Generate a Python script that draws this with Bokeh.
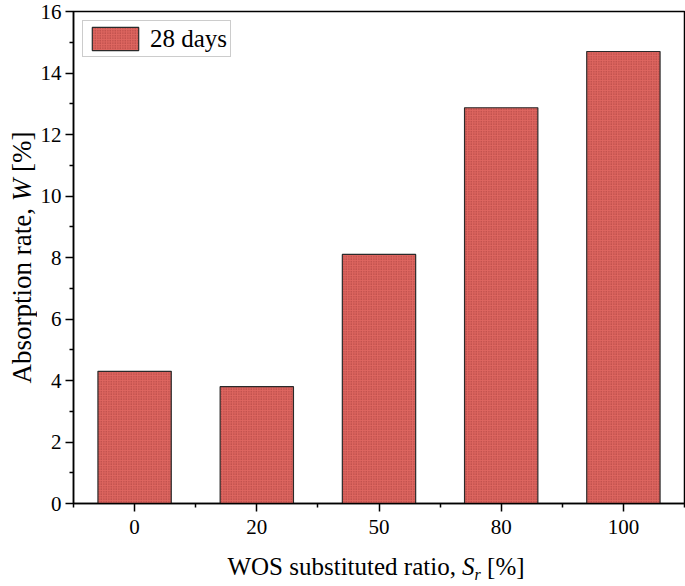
import numpy as np
from bokeh.plotting import figure
from bokeh.layouts import row, column
from bokeh.models import Range1d, FixedTicker, Label, ColumnDataSource
from bokeh.embed import file_html
from bokeh.resources import INLINE

# ---- data ----
categories = ["0", "20", "50", "80", "100"]
absorption_28d = [4.3, 3.8, 8.1, 12.87, 14.7]
y_ticks = [0, 2, 4, 6, 8, 10, 12, 14, 16]
series_name = "28 days"

FONT = "Liberation Serif"

# ---- layout sizes (px) ----
LEFT_W = 37          # strip holding the y-axis title
AX_LEFT = 33         # room for y tick labels
FRAME_W = 611
FRAME_H = 492
TOP = 11
RIGHT = 2
AX_BOTTOM = 47
BOT_H = 36           # strip holding the x-axis title
MAIN_W = AX_LEFT + FRAME_W + RIGHT
TOTAL_W = LEFT_W + MAIN_W

x_pos = np.arange(len(categories)) + 0.5
src = ColumnDataSource(dict(x=x_pos, top=absorption_28d))

p = figure(frame_width=FRAME_W, frame_height=FRAME_H,
           min_border_left=AX_LEFT, min_border_right=RIGHT, min_border_top=TOP,
           min_border_bottom=AX_BOTTOM,
           x_range=Range1d(0, len(categories)), y_range=Range1d(y_ticks[0], y_ticks[-1]),
           output_backend="svg", toolbar_location=None)

p.vbar(x="x", top="top", bottom=0, width=0.6, source=src,
       fill_color="#DE6660", line_color="#2a2a2a", line_width=1.2,
       hatch_pattern="dot", hatch_color="#8a2a2a", hatch_alpha=0.7, hatch_scale=2.5,
       hatch_weight=1, legend_label=series_name)

p.xgrid.visible = False
p.ygrid.visible = False
p.outline_line_color = "black"
p.outline_line_width = 1.5
p.background_fill_color = "white"
p.border_fill_color = "white"

for ax in (p.xaxis[0], p.yaxis[0]):
    ax.axis_line_width = 1.5
    ax.axis_line_color = "black"
    ax.major_tick_line_width = 1.5
    ax.minor_tick_line_width = 1.5
    ax.major_tick_in = 0
    ax.minor_tick_in = 0
    ax.major_tick_out = 8
    ax.minor_tick_out = 4
    ax.major_label_text_font = FONT
    ax.major_label_text_font_size = "21px"
    ax.major_label_text_color = "black"

p.xaxis.ticker = FixedTicker(ticks=list(x_pos), minor_ticks=list(range(0, len(categories) + 1)))
p.xaxis.major_label_overrides = {float(x): c for x, c in zip(x_pos, categories)}
p.xaxis.major_label_standoff = 8
p.yaxis.ticker = FixedTicker(ticks=y_ticks, minor_ticks=[t + 1 for t in y_ticks[:-1]])
p.yaxis.major_label_standoff = 4

lg = p.legend[0]
lg.location = "top_left"
lg.margin = 9
lg.padding = 3
lg.spacing = 0
lg.glyph_width = 58
lg.glyph_height = 29
lg.label_height = 29
lg.label_standoff = 6
lg.label_text_font = FONT
lg.label_text_font_size = "25px"
lg.label_text_color = "black"
lg.border_line_color = "#999999"
lg.border_line_width = 1


def strip(**kw):
    f = figure(output_backend="svg", toolbar_location=None,
               x_axis_location=None, y_axis_location=None, **kw)
    f.xgrid.visible = False
    f.ygrid.visible = False
    f.outline_line_color = None
    f.border_fill_color = "white"
    f.background_fill_color = "white"
    return f


# ---- y axis title: "Absorption rate, W [%]" (frame aligned with the main plot frame) ----
pl = strip(width=LEFT_W, frame_height=FRAME_H, min_border_left=0, min_border_right=0,
           min_border_top=TOP, min_border_bottom=AX_BOTTOM,
           x_range=Range1d(0, LEFT_W), y_range=Range1d(0, FRAME_H))
y_center = FRAME_H / 2
y_parts = [("Absorption rate,", "normal", -38.3), ("W", "italic", 67.5), ("[%]", "normal", 105.75)]
for txt, style, off in y_parts:
    pl.add_layout(Label(x=21.5, y=y_center + off, text=txt, angle=np.pi / 2,
                        text_font=FONT, text_font_style=style, text_font_size="27px",
                        text_color="black", text_align="center", text_baseline="middle"))

# ---- x axis title: "WOS substituted ratio, S_r [%]" ----
pb = strip(width=TOTAL_W, height=BOT_H, min_border=0,
           x_range=Range1d(0, TOTAL_W), y_range=Range1d(0, BOT_H))
x_center = LEFT_W + AX_LEFT + FRAME_W / 2
x_parts = [
    ("WOS substituted ratio,", "normal", "25px", -34.35, 20),
    ("S", "italic", "25px", 92.35, 20),
    ("r", "italic", "16px", 101.7, 12),
    ("[%]", "normal", "25px", 129.85, 20),
]
for txt, style, size, off, yb in x_parts:
    pb.add_layout(Label(x=x_center + off, y=yb, text=txt,
                        text_font=FONT, text_font_style=style, text_font_size=size,
                        text_color="black", text_align="center", text_baseline="middle"))

layout = column(row(pl, p, spacing=0), pb, spacing=0)

open("out.html", "w").write(file_html(layout, INLINE))
